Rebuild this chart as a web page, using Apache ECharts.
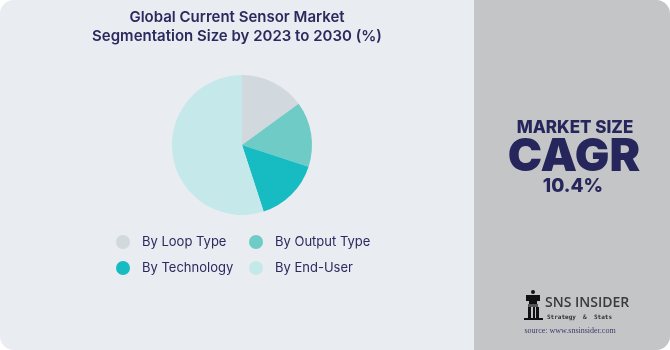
<!DOCTYPE html>
<html><head><meta charset="utf-8">
<script src="https://cdn.jsdelivr.net/npm/echarts@6/dist/echarts.min.js"></script>
<style>html,body{margin:0;padding:0;background:#fff}#c{width:670px;height:350px}</style>
</head><body><div id="c"></div>
<script>
const categories = ['By Loop Type', 'By Output Type', 'By Technology', 'By End-User'];
const shares = [15, 15, 15, 55];
const colors = ['#d1d8de', '#6ecbc5', '#17bbc2', '#c5e8ea'];
const titleLines = ['Global Current Sensor Market', 'Segmentation Size by 2023 to 2030 (%)'];
const cagrText = '10.4%';

const chart = echarts.init(document.getElementById('c'));
const font = 'Inter, "Open Sans", sans-serif';
const navy = '#27265c';
chart.setOption({
  animation: false,
  color: colors,
  graphic: [
    { type: 'rect', shape: { x: 0, y: 0, width: 670, height: 350, r: 14 }, style: { fill: '#e9ecf1' }, z: -10 },
    { type: 'rect', shape: { x: 474, y: 0, width: 196, height: 350, r: [0, 14, 14, 0] }, style: { fill: '#c4c5c6' }, z: -9 },
    { type: 'text', x: 237, y: 17, style: { text: titleLines[0], font: '600 15px ' + font, fill: '#2b2a5e', align: 'center', verticalAlign: 'middle' } },
    { type: 'text', x: 237, y: 36, style: { text: titleLines[1], font: '600 15px ' + font, fill: '#2b2a5e', align: 'center', verticalAlign: 'middle' } },
    { type: 'text', x: 575, y: 128, style: { text: 'MARKET SIZE', font: '800 17px ' + font, fill: navy, align: 'center', verticalAlign: 'middle' } },
    { type: 'text', x: 574, y: 157, style: { text: 'CAGR', font: '900 46px ' + font, fill: navy, align: 'center', verticalAlign: 'middle' } },
    { type: 'text', x: 573, y: 186, style: { text: cagrText, font: '800 19px ' + font, fill: navy, align: 'center', verticalAlign: 'middle' } },
    // logo (rook)
    { type: 'group', x: 524, y: 290, children: [
      { type: 'circle', shape: { cx: 9, cy: 2, r: 2 }, style: { fill: '#111' } },
      { type: 'rect', shape: { x: 2, y: 5, width: 14, height: 6 }, style: { fill: '#111' } },
      { type: 'rect', shape: { x: 5, y: 11, width: 8, height: 3 }, style: { fill: '#111' } },
      { type: 'rect', shape: { x: 4, y: 14, width: 10, height: 3 }, style: { fill: '#555' } },
      { type: 'rect', shape: { x: 4, y: 17, width: 3, height: 12 }, style: { fill: '#111' } },
      { type: 'rect', shape: { x: 9, y: 17, width: 2, height: 12 }, style: { fill: '#111' } },
      { type: 'rect', shape: { x: 12, y: 17, width: 3, height: 12 }, style: { fill: '#111' } },
      { type: 'rect', shape: { x: 0, y: 28, width: 19, height: 2 }, style: { fill: '#111' } }
    ] },
    { type: 'text', x: 545, y: 303, style: { text: 'SNS INSIDER', font: '600 14px "Open Sans", sans-serif', fill: '#3a3a3a', verticalAlign: 'middle' } },
    { type: 'text', x: 547, y: 317, style: { text: 'Strategy  &  Stats', font: 'bold 6px "DejaVu Sans Mono", monospace', fill: '#333', verticalAlign: 'middle' } },
    { type: 'text', x: 570, y: 331, style: { text: 'source: www.snsinsider.com', font: '8px "Liberation Serif", serif', fill: '#3b3a6e', align: 'center', verticalAlign: 'middle' } }
  ],
  legend: [
    { data: [categories[0], categories[2]], orient: 'vertical', left: 111, top: 230, itemWidth: 14, itemHeight: 14, itemGap: 12, icon: 'circle',
      textStyle: { color: '#2b2a5e', fontSize: 13, fontFamily: font, padding: [0, 0, 0, 7] }, selectedMode: false },
    { data: [categories[1], categories[3]], orient: 'vertical', left: 244, top: 230, itemWidth: 14, itemHeight: 14, itemGap: 12, icon: 'circle',
      textStyle: { color: '#2b2a5e', fontSize: 13, fontFamily: font, padding: [0, 0, 0, 7] }, selectedMode: false }
  ],
  series: [{
    type: 'pie', center: [242, 145], radius: 70, startAngle: 90, clockwise: true,
    label: { show: false }, labelLine: { show: false }, emphasis: { disabled: true },
    data: categories.map((c, i) => ({ name: c, value: shares[i] }))
  }]
});
</script></body></html>
